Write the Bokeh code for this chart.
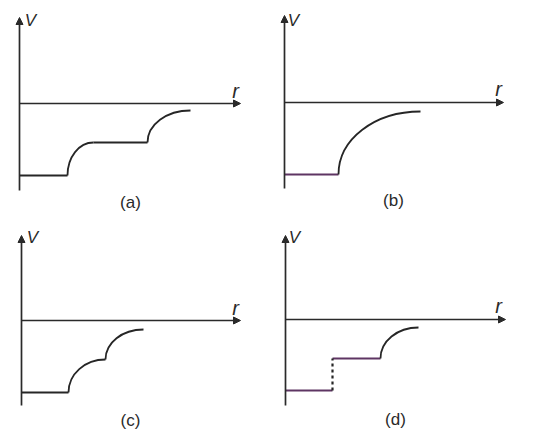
from bokeh.plotting import figure
from bokeh.layouts import gridplot
from bokeh.models import Range1d, Arrow, NormalHead, Label
from bokeh.embed import file_html
from bokeh.resources import INLINE

# ---- data (schematic units: r to the right, V upward) ----
panel_names = ["(a)", "(b)", "(c)", "(d)"]

# axis extents per panel: r_end, V_top, V_bottom
axis_r_end = [22.1, 21.9, 21.9, 22.0]
axis_v_top = [8.6, 8.7, 8.5, 8.4]
axis_v_bot = [-8.7, -8.6, -8.5, -8.6]

# flat (constant V) segments per panel: r_start, r_end, V
flat_r0 = [[0.0, 7.4], [0.0], [0.0], [0.0, 4.7]]
flat_r1 = [[4.8, 12.8], [5.4], [4.7], [4.7, 9.5]]
flat_v = [[-7.2, -3.9], [-7.2], [-7.2], [-7.1, -3.9]]

# rising (curved) segments per panel: start (r, V) -> end (r, V)
rise_r0 = [[4.8, 12.8], [5.4], [4.7, 8.4], [9.5]]
rise_v0 = [[-7.2, -3.9], [-7.2], [-7.2, -3.9], [-3.9]]
rise_r1 = [[7.4, 17.1], [13.6], [8.4, 12.2], [13.3]]
rise_v1 = [[-3.9, -0.7], [-0.9], [-3.9, -0.9], [-0.8]]

# dotted jump (panel d only): r, V_from, V_to
jump_r = [None, None, None, 4.7]
jump_v0 = [None, None, None, -7.1]
jump_v1 = [None, None, None, -3.9]

# label positions (r, V)
v_lab = [(1.1, 8.3), (0.9, 8.2), (1.1, 8.3), (0.9, 8.2)]
r_lab = [(21.6, 1.3), (21.4, 1.4), (21.4, 1.3), (21.3, 1.4)]
name_lab = [(11.1, -9.9), (10.9, -9.8), (10.9, -10.0), (11.0, -10.0)]

# figure frames (layout only)
fig_w = [262, 261, 262, 261]
fig_h = [214, 214, 220, 220]
x_rng = [(-1.9, 24.3), (-2.2, 23.9), (-2.1, 24.1), (-2.3, 23.8)]
y_rng = [(-11.1, 10.3), (-11.2, 10.2), (-11.4, 10.6), (-11.5, 10.5)]

AX = "#2a2a2a"
CUR = "#262626"
PUR = "#5e3563"
flat_col = [[CUR, CUR], [PUR], [CUR], [PUR, PUR]]

figs = []
for i in range(4):
    p = figure(width=fig_w[i], height=fig_h[i], output_backend="svg",
               toolbar_location=None, min_border=0,
               x_range=Range1d(*x_rng[i]), y_range=Range1d(*y_rng[i]))
    p.axis.visible = False
    p.xgrid.visible = False
    p.ygrid.visible = False
    p.outline_line_color = None
    p.background_fill_color = "white"
    p.border_fill_color = "white"

    # axes with arrow heads
    p.add_layout(Arrow(end=NormalHead(size=7, fill_color=AX, line_color=AX, line_width=1),
                       x_start=0, y_start=axis_v_bot[i], x_end=0, y_end=axis_v_top[i],
                       line_color=AX, line_width=1.7))
    p.add_layout(Arrow(end=NormalHead(size=7, fill_color=AX, line_color=AX, line_width=1),
                       x_start=0, y_start=0, x_end=axis_r_end[i], y_end=0,
                       line_color=AX, line_width=1.7))

    # flat parts
    for j in range(len(flat_r0[i])):
        p.line([flat_r0[i][j], flat_r1[i][j]], [flat_v[i][j], flat_v[i][j]],
               line_color=flat_col[i][j], line_width=1.8)

    # curved rises (quarter-ellipse-like bezier: vertical start, horizontal end)
    k = 0.56
    x0 = rise_r0[i]; y0 = rise_v0[i]; x1 = rise_r1[i]; y1 = rise_v1[i]
    cx0 = list(x0)
    cy0 = [a + k * (b - a) for a, b in zip(y0, y1)]
    cx1 = [b - k * (b - a) for a, b in zip(x0, x1)]
    cy1 = list(y1)
    p.bezier(x0=x0, y0=y0, x1=x1, y1=y1, cx0=cx0, cy0=cy0, cx1=cx1, cy1=cy1,
             line_color=CUR, line_width=1.8)

    # dotted jump
    if jump_r[i] is not None:
        p.line([jump_r[i], jump_r[i]], [jump_v0[i], jump_v1[i]],
               line_color=CUR, line_width=2.2, line_dash="3 3")

    p.add_layout(Label(x=v_lab[i][0], y=v_lab[i][1], text="V", text_font="Liberation Sans",
                       text_font_style="italic", text_font_size="17px", text_color="#2a2a2a",
                       text_align="center", text_baseline="middle"))
    p.add_layout(Label(x=r_lab[i][0], y=r_lab[i][1], text="r", text_font="Liberation Sans",
                       text_font_style="italic", text_font_size="20px", text_color="#2a2a2a",
                       text_align="center", text_baseline="middle"))
    p.add_layout(Label(x=name_lab[i][0], y=name_lab[i][1], text=panel_names[i],
                       text_font="Liberation Sans", text_font_size="17px", text_color="#2a2a2a",
                       text_align="center", text_baseline="middle"))
    figs.append(p)

grid = gridplot([[figs[0], figs[1]], [figs[2], figs[3]]], toolbar_location=None)

open("out.html", "w").write(file_html(grid, INLINE))
